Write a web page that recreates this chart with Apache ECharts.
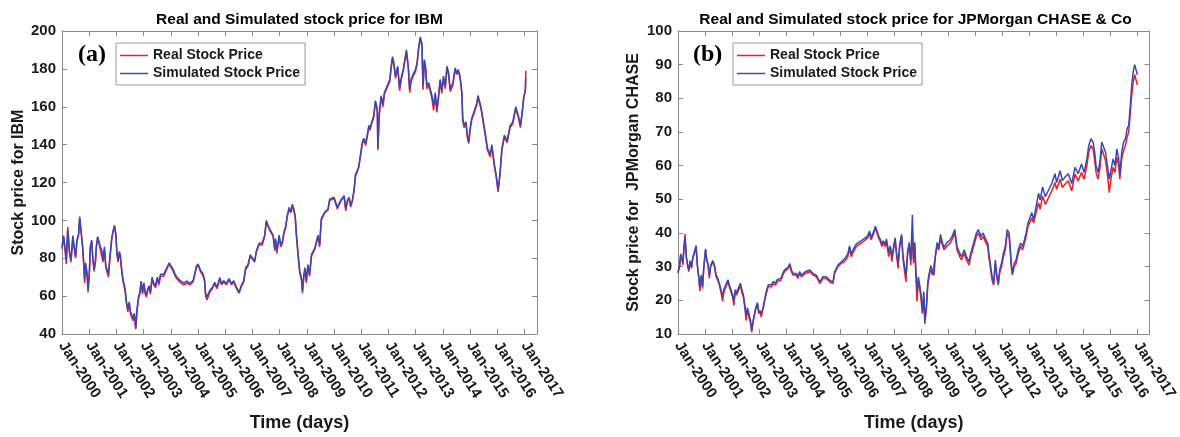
<!DOCTYPE html>
<html>
<head>
<meta charset="utf-8">
<script src="https://cdn.jsdelivr.net/npm/echarts@6/dist/echarts.min.js"></script>
<style>
html,body{margin:0;padding:0;background:#fff;}
#chart{width:1180px;height:437px;}
</style>
</head>
<body>
<div id="chart"></div>
<script>
// ---------- DATA ----------
const seriesNames = ['Real Stock Price', 'Simulated Stock Price'];
const panelTitles = ['Real and Simulated stock price for IBM', 'Real and Simulated stock price for JPMorgan CHASE & Co'];
const yAxisNames = ['Stock price for IBM', 'Stock price for  JPMorgan CHASE'];
const xAxisName = 'Time (days)';
const panelTags = ['(a)', '(b)'];
const tickYears = [2000,2001,2002,2003,2004,2005,2006,2007,2008,2009,2010,2011,2012,2013,2014,2015,2016,2017];

const ibmYears = [2000.00,2000.06,2000.12,2000.16,2000.21,2000.28,2000.33,2000.40,2000.45,2000.50,2000.55,2000.61,2000.65,2000.70,2000.76,2000.80,2000.83,2000.87,2000.92,2000.96,
2001.01,2001.04,2001.09,2001.13,2001.18,2001.23,2001.26,2001.31,2001.36,2001.41,2001.46,2001.51,2001.56,2001.61,2001.66,2001.71,2001.75,2001.82,2001.87,2001.93,2001.98,
2002.02,2002.06,2002.11,2002.15,2002.18,2002.23,2002.27,2002.32,2002.37,2002.42,2002.47,2002.52,2002.56,2002.61,2002.66,2002.71,2002.76,2002.81,2002.86,2002.91,2002.96,
2003.01,2003.06,2003.10,2003.15,2003.20,2003.25,2003.31,2003.37,2003.44,2003.50,2003.56,2003.62,2003.68,2003.74,2003.80,2003.87,2003.94,
2004.01,2004.09,2004.16,2004.23,2004.36,2004.48,2004.60,2004.70,2004.82,2004.94,
2005.00,2005.09,2005.18,2005.24,2005.28,2005.33,2005.43,2005.53,2005.61,2005.70,2005.80,2005.86,2005.94,
2006.04,2006.14,2006.23,2006.31,2006.41,2006.51,2006.59,2006.68,2006.75,2006.84,2006.92,2006.99,
2007.08,2007.14,2007.24,2007.29,2007.36,2007.45,2007.51,2007.57,2007.63,2007.70,2007.76,2007.82,2007.85,2007.90,2007.98,
2008.04,2008.10,2008.16,2008.22,2008.28,2008.35,2008.41,2008.47,2008.52,2008.57,2008.62,2008.68,2008.74,2008.80,2008.84,2008.89,2008.93,2008.98,
2009.04,2009.10,2009.17,2009.23,2009.29,2009.35,2009.41,2009.47,2009.53,2009.59,2009.66,2009.72,2009.78,2009.84,
2010.00,2010.12,2010.24,2010.37,2010.43,2010.49,2010.55,2010.61,2010.67,2010.73,2010.79,2010.85,2010.91,2010.98,
2011.04,2011.10,2011.16,2011.22,2011.28,2011.32,2011.37,2011.46,2011.52,2011.59,2011.61,2011.66,2011.73,2011.80,2011.85,2011.95,
2012.05,2012.10,2012.15,2012.20,2012.26,2012.34,2012.41,2012.48,2012.54,2012.59,2012.66,2012.73,2012.78,2012.83,2012.90,2012.99,
2013.05,2013.11,2013.17,2013.23,2013.27,2013.32,2013.37,2013.41,2013.48,2013.54,2013.60,2013.66,2013.72,2013.78,2013.84,2013.90,2013.96,
2014.02,2014.09,2014.15,2014.21,2014.27,2014.37,2014.45,2014.51,2014.57,2014.63,2014.70,2014.73,2014.78,2014.85,2014.90,2014.95,
2015.00,2015.06,2015.12,2015.18,2015.25,2015.29,2015.40,2015.49,2015.57,2015.64,2015.74,2015.80,2015.89,2015.96,
2016.03,2016.10,2016.17,2016.26,2016.36,2016.47,2016.57,2016.68,2016.78,2016.85,2016.92,2016.97,2017.03,2017.05];

const ibmSimulated = [86,92,84.5,79,95,83,79,92,86,81,89.6,93,102,95,86,77.6,69,77.6,72.4,63.8,
74,86,89.6,81,74,79,86,91.4,88.8,86,84.5,79,86,76,76,71.5,79,89.6,94,97.4,93,
83,79,83.6,81,76,70,67,63.8,57,53.4,57,51.7,52.6,48.3,51,43,53.4,59.5,62,68,62,
67,62,60.3,63.8,65.5,62,70,67,65.5,70,67,71.5,72.4,71.5,73.3,72.4,77.6,
78.4,74,71.5,70,68,67,68,66.6,68.3,75.8,
77,73.7,72,68.5,61.3,59.6,63,64.7,67.3,64.7,69.9,66.6,68.2,
66.6,69.2,66.6,68.2,64.7,62.1,65.6,68.2,75,76.7,81.9,81,
78.5,83.6,87.9,88.8,87.9,92.2,100,97.5,95.7,94.9,92.2,85.3,90.4,83.6,92.2,
87,88.8,94,96.6,102.6,106.9,104.4,108.6,106,102.6,92.2,81.9,73.2,69.8,62.9,71.5,75,68.2,
76.7,71.5,81.9,83.6,85.3,88.8,92.2,87,100.8,102.6,104.4,104,106,111.2,
112.2,107,110.5,113.1,106.2,110.5,112.2,107.9,110.5,115.6,124.3,126,128.6,129.5,
141.6,143.3,140.7,145,150.2,148.5,151.1,155.4,163.2,158.9,138.1,156.3,165.8,161.5,167.5,171,
174.4,181.4,186.5,183.1,176.2,181.4,170.1,176.2,179.6,184,190,181.4,169.3,174.4,177,179.6,
183.1,191.7,196.9,193.5,171,184.9,180.5,171,172.7,169.3,165.8,160.6,167.5,158.9,165.8,174.4,168.4,
176.2,171,181.4,178,169.3,172.7,180.5,178,179.6,176.2,167.5,153.8,150.2,152,145,141.6,
148.5,153.8,154.7,159,162,166,160,152,145,138,135,140,130,124,
116,125,138,145,142,150,152,160,155,150,158,165,168,175];

const ibmReal = [85,91,83,77,96.5,82,78,91,85,80,89,92,101,94,85,76,67,76.5,71,62,
73,85,89,80,73,78,85,91,88,84.5,83.5,78,85,75,75,70,78,89,93.5,97,92,
82,78,83,80,75,69,66,62.5,56,51.7,56,50.5,51.5,47,50,42.5,52.5,58.5,61,67.5,61,
66,61,59.5,63,64.5,61,69,66,64.5,69,66,70.5,71.5,70.5,72.5,71.5,77,
78,73,70.5,69,67,66,67,66,67.5,75,
76.5,73,71,68,60,58,62,64,66.5,64,69,66,67.5,
66,68.5,66,67.5,64,61.5,65,67.5,74,76,81,80,
78,83,87,88,87,91.5,99,97,95,94,91.5,84,89.5,82.5,91.5,
86,88,93,96,102,106,104,107.5,105,102,91,81,72,68.5,61.5,70.5,74,67,
76,70.5,81,83,84.5,88,91.5,86,100,102,104,103.5,105.5,110.5,
111.5,106,110,112.5,105,110,111.5,107,110,115,123.5,125.5,128,129,
140.5,142.5,139.5,144,149.5,147.5,150.5,154.5,162.5,157.5,137,155,165,160,166.5,170,
173.5,180.5,185.5,182,175,180.5,168.5,175,178.5,183,189,180,167.5,173,176,178.5,
182,190.5,195.5,192.5,169,184,179.5,169.5,171.5,168,164,158,166,157,164.5,173.5,167,
175,169.5,180.5,177,168,171.5,179.5,177,178.5,175.5,166.5,152.5,149,151,143.5,140.5,
147.5,153,154,158,161,165,159,151,143.5,137,133.5,139,128.5,123,
115,124,137,144,141,149,151,159,154,149,157,164,169,179];

const jpmYears = [2000.00,2000.06,2000.10,2000.15,2000.18,2000.22,2000.26,2000.31,2000.35,2000.40,2000.45,2000.50,2000.55,2000.61,2000.67,2000.72,2000.77,2000.81,2000.86,2000.91,2000.95,
2001.02,2001.06,2001.11,2001.16,2001.21,2001.29,2001.35,2001.41,2001.47,2001.53,2001.59,2001.65,2001.70,2001.77,2001.85,2001.90,2001.96,
2002.02,2002.07,2002.12,2002.17,2002.24,2002.31,2002.36,2002.42,2002.48,2002.52,2002.57,2002.63,2002.69,2002.73,2002.78,2002.83,2002.88,2002.94,2002.99,
2003.04,2003.08,2003.15,2003.21,2003.27,2003.34,2003.39,2003.46,2003.53,2003.61,2003.67,2003.73,2003.82,2003.88,2003.94,
2004.00,2004.08,2004.14,2004.20,2004.26,2004.32,2004.38,2004.44,2004.50,2004.57,2004.64,2004.71,2004.88,
2005.00,2005.12,2005.25,2005.37,2005.49,2005.61,2005.74,2005.80,2005.92,
2006.04,2006.17,2006.29,2006.35,2006.41,2006.47,2006.53,2006.60,2006.69,2006.78,2006.87,2006.94,
2007.02,2007.09,2007.15,2007.23,2007.31,2007.37,2007.43,2007.49,2007.55,2007.60,2007.67,2007.72,2007.80,2007.86,2007.92,2007.98,
2008.04,2008.09,2008.15,2008.21,2008.28,2008.33,2008.39,2008.44,2008.50,2008.56,2008.62,2008.68,2008.72,2008.77,2008.80,2008.85,2008.90,2008.95,
2009.00,2009.05,2009.10,2009.14,2009.20,2009.25,2009.29,2009.36,2009.42,2009.48,2009.54,2009.60,2009.66,2009.72,2009.79,2009.85,2009.94,
2010.08,2010.15,2010.25,2010.33,2010.43,2010.50,2010.60,2010.68,2010.78,2010.84,2010.91,2010.98,
2011.05,2011.12,2011.22,2011.30,2011.40,2011.47,2011.51,2011.58,2011.63,2011.69,2011.75,2011.80,2011.86,2011.91,2011.98,
2012.05,2012.12,2012.19,2012.26,2012.30,2012.34,2012.38,2012.45,2012.52,2012.60,2012.69,2012.76,2012.83,2012.89,2012.96,
2013.05,2013.10,2013.17,2013.24,2013.35,2013.41,2013.50,2013.60,2013.72,2013.84,2013.96,
2014.02,2014.15,2014.23,2014.33,2014.45,2014.58,2014.70,2014.82,2014.94,
2015.04,2015.14,2015.21,2015.29,2015.37,2015.43,2015.48,2015.55,2015.62,2015.69,2015.76,2015.83,2015.90,2015.97,
2016.04,2016.11,2016.18,2016.25,2016.32,2016.36,2016.43,2016.50,2016.57,2016.63,2016.69,2016.75,2016.80,2016.86,2016.91,2016.97,2017.01];

const jpmSimulated = [28.4,30.4,33.8,32.3,30.9,35.8,38.7,32.9,30.9,29,31.8,29.9,32.9,34.4,36.3,30.4,27,23.6,27.5,24.1,29.5,
35.3,32.3,30.9,27.5,30.4,31.8,30.4,27.5,26.6,25.1,23.2,21.2,23.2,24.6,26.1,24.6,25.1,
21.7,19.8,23.2,22.2,23.7,25.1,23.2,21.7,18.3,15.4,17.8,15.9,13.9,11,13.9,15.9,17.8,19.3,16.8,
17.3,15.9,17.8,20.2,22.7,24.6,25.1,24.6,25.6,25.1,26.1,25.6,26.6,28,29,
28.5,29.9,30.9,29,28,27.5,28,27,28.5,27.5,28,28.5,29,
28,27.5,25.5,27,27,26,25.5,28.5,30.4,
31.4,32.3,33.8,36.2,33.8,34.8,35.7,36.7,37.2,37.7,38.2,37.7,
39.1,40.6,38.6,40.1,42,41.6,39.1,38.2,36.7,37.7,36.7,38.2,34.3,36.2,32.8,35.7,
38.6,34.3,30.9,36.7,39.6,33.3,29.9,27.5,34.3,37.2,31.8,45.4,32.3,37.2,30.4,22.6,27,24.6,
21.7,16.8,22.6,13.9,18.7,25.5,27.5,30.4,28.5,27.5,34.3,37.2,35.7,39.6,37.2,35.7,37,
38,39,41,36,34,33,35,33,31.5,34,36,38,
40,41,39,40,38,37,34,30,27,25,32,28,25,29,31,
34,36,41,40,36,31,28,31,32,35,37,36,38,40,43,
45,46,44,47,51.8,49.8,53.7,50.8,52.7,54.7,57.6,
55,58.5,55.6,56.6,57.6,54.7,59.5,57.6,60.5,
58,62,66,68,67,64,60,58,61,67,67,64,60,56,
59,62,60,65,62,57,64,67,68,71,72,78,84,88,90,90,87];

const jpmReal = [28,30,33.5,32,30.5,35.5,39.7,32.5,30.5,28.5,31.5,29.5,32.5,34,36,30,26.5,22.7,27,23.5,29,
35,32,30.5,26.5,30,31.5,30,27,26,24.5,22.5,19.8,22.5,24,25.5,24,24.5,
21,18.5,22.5,21.5,23,24.5,22.5,21,17.5,14,17,15,13,10.5,13.5,15.5,17.5,19,16,
17,15,17.5,20,22,24,24.5,24,25,24.5,25.5,25,26,27.5,28.5,
28,29.5,30.5,28.5,27.5,27,27.5,26.5,28,27,27.5,28,28.5,
27.5,27,25,26.5,26.5,25.5,25,28,30,
31,31.5,33,35.5,33,34,35,36,36.5,37,37.5,37,
38.5,40,38,39.5,41.5,41,38.5,37.5,36,37,36,37.5,33,35.5,31.5,35,
38,33.5,29.5,36,39,32.5,28.5,25.5,33.5,36.5,30.5,40,31,36,29,19.7,25.5,23.5,
20.5,16,21.5,13,17.5,24.5,26.5,29.5,27.5,27,33.5,36,35,38.5,36.5,35,36,
37,38,40,35,33,32,34,32,30.5,33,35,37,
39,40,38,39,37,36,33,29,26,24.5,31,27,24.5,28,30,
33,35,40,39,35,30,27.5,30,31,34,36,35,37,39,42,
43.5,44.5,43,45.5,49,47,51,48.5,50.5,52.5,55,
53,56,53.5,54.5,55.5,52.5,57.5,55.5,58,
56,60,64,66,65,61.5,58,56,59,65,64.5,61.5,57.5,52,
56.5,59.5,58,62.5,60,56,62,64.5,66,68.5,70,76,81,85,87,86.5,84];

// ---------- CHART ----------
const FONT = '"Liberation Sans", Arial, Helvetica, sans-serif';
const frameColor = '#8a8a8a';
const textColor = '#1a1a1a';
const realColor = '#ee1c25';
const simColor = '#3a48b4';

const grids = [
  {left: 62, top: 31, width: 475, height: 309},
  {left: 678, top: 31, width: 475, height: 309}
];
const yRanges = [{min: 40, max: 200, interval: 20}, {min: 10, max: 100, interval: 10}];
const yNameGaps = [35, 36];

function pairs(xs, ys) { return xs.map((x, i) => [x, ys[i]]); }

const xAxes = [], yAxes = [], series = [];
grids.forEach((g, i) => {
  xAxes.push({
    type: 'value', gridIndex: i, position: 'bottom',
    min: 2000, max: 2017.46, interval: 1,
    name: xAxisName, nameLocation: 'middle', nameGap: 80,
    nameTextStyle: {fontFamily: FONT, fontWeight: 'bold', fontSize: 18, color: textColor},
    axisLine: {show: true, lineStyle: {color: frameColor, width: 1}},
    axisTick: {show: true, inside: true, length: 5, lineStyle: {color: frameColor}},
    splitLine: {show: false},
    axisLabel: {
      rotate: -57, margin: 9, showMaxLabel: false,
      fontFamily: FONT, fontWeight: 'bold', fontSize: 15, color: textColor,
      formatter: v => (tickYears.indexOf(Math.round(v)) >= 0 && Math.abs(v - Math.round(v)) < 1e-6) ? 'Jan-' + Math.round(v) : ''
    }
  });
  xAxes.push({
    type: 'value', gridIndex: i, position: 'top',
    min: 2000, max: 2017.46, interval: 1,
    axisLine: {show: true, lineStyle: {color: frameColor, width: 1}},
    axisTick: {show: true, inside: true, length: 5, lineStyle: {color: frameColor}},
    splitLine: {show: false}, axisLabel: {show: false}
  });
  yAxes.push({
    type: 'value', gridIndex: i, position: 'left',
    min: yRanges[i].min, max: yRanges[i].max, interval: yRanges[i].interval,
    name: yAxisNames[i], nameLocation: 'middle', nameGap: yNameGaps[i],
    nameTextStyle: {fontFamily: FONT, fontWeight: 'bold', fontSize: 16, color: textColor},
    axisLine: {show: true, lineStyle: {color: frameColor, width: 1}},
    axisTick: {show: true, inside: true, length: 5, lineStyle: {color: frameColor}},
    splitLine: {show: false},
    axisLabel: {margin: 6, fontFamily: FONT, fontWeight: 'bold', fontSize: 15, color: textColor}
  });
  yAxes.push({
    type: 'value', gridIndex: i, position: 'right',
    min: yRanges[i].min, max: yRanges[i].max, interval: yRanges[i].interval,
    axisLine: {show: true, lineStyle: {color: frameColor, width: 1}},
    axisTick: {show: true, inside: true, length: 5, lineStyle: {color: frameColor}},
    splitLine: {show: false}, axisLabel: {show: false}
  });
});

const data = [
  {years: ibmYears, real: ibmReal, sim: ibmSimulated},
  {years: jpmYears, real: jpmReal, sim: jpmSimulated}
];
data.forEach((d, i) => {
  series.push({
    name: seriesNames[0], type: 'line', xAxisIndex: i * 2, yAxisIndex: i * 2,
    data: pairs(d.years, d.real), symbol: 'none', showSymbol: false, animation: false,
    lineStyle: {color: realColor, width: 1.5}, itemStyle: {color: realColor}, z: 2
  });
  series.push({
    name: seriesNames[1], type: 'line', xAxisIndex: i * 2, yAxisIndex: i * 2,
    data: pairs(d.years, d.sim), symbol: 'none', showSymbol: false, animation: false,
    lineStyle: {color: simColor, width: 1.5}, itemStyle: {color: simColor}, z: 3
  });
});

const legendPos = [{left: 116, top: 43}, {left: 733, top: 43}];
const legends = legendPos.map(p => ({
  left: p.left, top: p.top, orient: 'vertical',
  data: seriesNames.map(n => ({name: n, icon: 'rect'})),
  selectedMode: false,
  backgroundColor: '#fff', borderColor: '#9a9a9a', borderWidth: 1,
  padding: [5, 5, 4, 4], itemGap: 3, itemWidth: 28, itemHeight: 1.5,
  textStyle: {fontFamily: FONT, fontWeight: 'bold', fontSize: 14, color: textColor, lineHeight: 15}
}));

const titleCenters = [62 + 475 / 2, 678 + 475 / 2];
const graphics = [];
titleCenters.forEach((cx, i) => {
  graphics.push({
    type: 'text', x: cx, y: 20, z: 10,
    style: {text: panelTitles[i], font: 'bold 15.5px ' + FONT, fill: '#000',
      align: 'center', verticalAlign: 'middle', textAlign: 'center', textVerticalAlign: 'middle'}
  });
});
[{x: 78, y: 55}, {x: 693, y: 55}].forEach((p, i) => {
  graphics.push({
    type: 'text', x: p.x, y: p.y, z: 10,
    style: {text: panelTags[i], font: 'bold 24px "Liberation Serif", "Times New Roman", serif', fill: '#000',
      align: 'left', verticalAlign: 'middle', textAlign: 'left', textVerticalAlign: 'middle'}
  });
});

const chart = echarts.init(document.getElementById('chart'));
chart.setOption({
  backgroundColor: '#fff',
  animation: false,
  grid: grids.map(g => Object.assign({containLabel: false}, g)),
  xAxis: xAxes,
  yAxis: yAxes,
  legend: legends,
  series: series,
  graphic: graphics
});
</script>
</body>
</html>
